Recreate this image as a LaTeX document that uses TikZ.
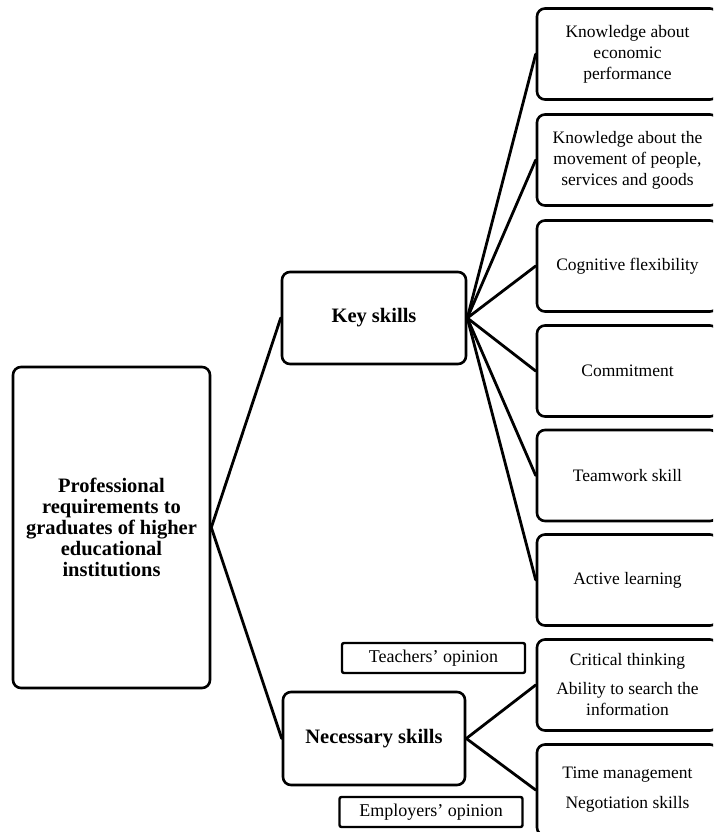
\documentclass[tikz,border=0pt]{standalone}
\usepackage{fontspec}
\setmainfont{Liberation Serif}
\begin{document}
\begin{tikzpicture}[x=1pt,y=-1pt,
  box/.style={draw=black, line width=2.6pt, rounded corners=8pt, align=center, inner sep=2pt,
              font=\fontsize{17.5}{21}\selectfont, text=black},
  bbox/.style={box, font=\fontsize{20.5}{21}\selectfont\bfseries},
  rbox/.style={box, minimum width=181pt, minimum height=91pt},
  obox/.style={draw=black, line width=2.4pt, rounded corners=2pt, minimum width=183pt, minimum height=30pt,
              inner sep=0pt, font=\fontsize{18}{19}\selectfont, text=black},
  link/.style={line width=2.8pt, line cap=round}]
\useasboundingbox (0,0) rectangle (713,832);
\clip (0,0) rectangle (713,832);

\node[bbox, minimum width=197pt, minimum height=321pt] (main) at (111.5,527.5)
  {Professional\\requirements to\\graduates of higher\\educational\\institutions};
\node[bbox, minimum width=184pt, minimum height=92pt] (key) at (374,318) {Key skills};
\node[bbox, minimum width=182pt, minimum height=93pt] (nec) at (374,738.5) {Necessary skills};

\node[obox] (teach) at (433.5,658) {Teachers' opinion};
\node[obox] (empl) at (431,812) {Employers' opinion};

\node[rbox] (b1) at (627.5,54) {Knowledge about\\economic\\performance};
\node[rbox] (b2) at (627.5,160) {Knowledge about the\\movement of people,\\services and goods};
\node[rbox] (b3) at (627.5,266) {Cognitive flexibility};
\node[rbox] (b4) at (627.5,371) {Commitment};
\node[rbox] (b5) at (627.5,475.5) {Teamwork skill};
\node[rbox] (b6) at (627.5,580) {Active learning};
\node[rbox] (b7) at (627.5,685) {Critical thinking\\[8pt]Ability to search the\\information};
\node[rbox] (b8) at (627.5,790) {Time management\\[9pt]Negotiation skills};

\draw[link] (main.east) -- (key.west);
\draw[link] (main.east) -- (nec.west);
\foreach \b in {b1,b2,b3,b4,b5,b6}
  \draw[link] (key.east) -- (\b.west);
\draw[link] (nec.east) -- (b7.west);
\draw[link] (nec.east) -- (b8.west);
\end{tikzpicture}
\end{document}
